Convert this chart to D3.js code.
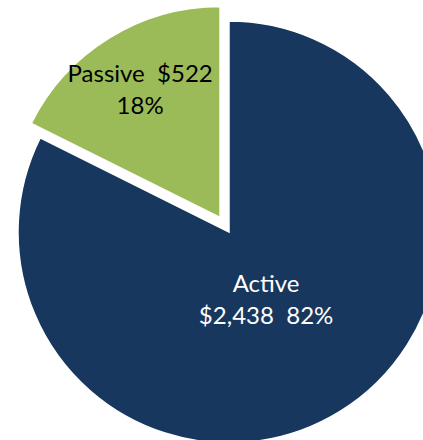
<!DOCTYPE html>
<html>
<head>
<meta charset="utf-8">
<script src="https://cdn.jsdelivr.net/npm/d3@7"></script>
<style>
  html, body { margin: 0; padding: 0; background: #fff; overflow: hidden; }
  svg { display: block; }
</style>
</head>
<body>
<script>
// chart data
var categories = ["Active", "Passive"];
var amounts = [2438, 522];
var percents = [82, 18];
var colors = ["#17375e", "#9bbb59"];

var width = 423, height = 440;
var cx = 229, cy = 232, radius = 211;
var explode = 17; // passive slice pulled out

var svg = d3.select("body").append("svg")
  .attr("width", width)
  .attr("height", height);

var g = svg.append("g")
  .attr("transform", "translate(" + cx + "," + cy + ")");

var pie = d3.pie()
  .sort(null)
  .value(function (d) { return d; });

var arcs = pie(amounts);

var arc = d3.arc()
  .innerRadius(0)
  .outerRadius(radius);

function offset(d, i) {
  if (categories[i] !== "Passive") return [0, 0];
  var a = (d.startAngle + d.endAngle) / 2;
  return [Math.sin(a) * explode, -Math.cos(a) * explode];
}

var slice = g.selectAll(".slice")
  .data(arcs)
  .enter().append("g")
  .attr("class", "slice")
  .attr("transform", function (d, i) {
    var o = offset(d, i);
    return "translate(" + o[0] + "," + o[1] + ")";
  });

slice.append("path")
  .attr("d", arc)
  .attr("fill", function (d, i) { return colors[i]; })
  .attr("stroke", "#fff")
  .attr("stroke-width", 1.5);

// label placement along each bisector
var labelR = [0.37 * radius, 0.72 * radius];
var nudgeX = [-4, 0];
var fmt = d3.format("$,");

var label = slice.append("text")
  .attr("text-anchor", "middle")
  .attr("font-family", "Lato, 'Open Sans', sans-serif")
  .attr("font-size", 24)
  .attr("fill", function (d, i) { return i === 0 ? "#fff" : "#000"; })
  .attr("transform", function (d, i) {
    var a = (d.startAngle + d.endAngle) / 2;
    return "translate(" + (Math.sin(a) * labelR[i] + nudgeX[i]) + "," + (-Math.cos(a) * labelR[i]) + ")";
  });

label.each(function (d, i) {
  var t = d3.select(this);
  var lines = i === 0
    ? [categories[i], fmt(amounts[i]) + "\u00a0\u00a0" + percents[i] + "%"]
    : [categories[i] + "\u00a0\u00a0" + fmt(amounts[i]), percents[i] + "%"];
  t.selectAll("tspan")
    .data(lines)
    .enter().append("tspan")
    .attr("x", 0)
    .attr("y", function (l, k) { return (k - 0.5) * 32 + 10; })
    .text(function (l) { return l; });
});
</script>
</body>
</html>
